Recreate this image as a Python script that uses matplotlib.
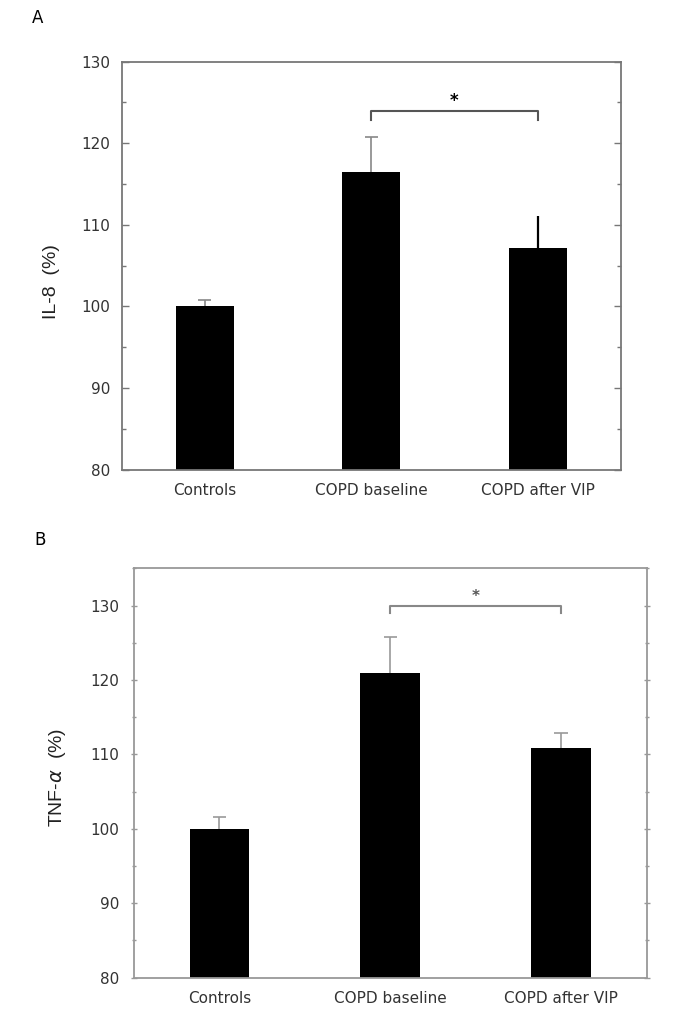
import matplotlib
matplotlib.use("Agg")
import matplotlib.pyplot as plt
from matplotlib.ticker import MultipleLocator

categories = ["Controls", "COPD baseline", "COPD after VIP"]
il8_values = [100.0, 116.4, 107.1]
il8_err = [0.8, 4.3, 4.0]
tnf_values = [100.0, 120.9, 110.9]
tnf_err = [1.6, 4.8, 1.9]
y_ticks = [80, 90, 100, 110, 120, 130]

W, H = 674, 1022
fig = plt.figure(figsize=(W / 100, H / 100), dpi=100)

def ax_from_px(left, right, top, bottom):
    return fig.add_axes([left / W, 1 - bottom / H, (right - left) / W, (bottom - top) / H])

axA = ax_from_px(121.5, 621, 61.5, 469.5)
axB = ax_from_px(134, 646.7, 568.3, 977.5)

x = list(range(len(categories)))

def style(ax, spine_col, tickdir):
    for s in ax.spines.values():
        s.set_color(spine_col)
        s.set_linewidth(1.3)
    ax.set_xlim(-0.5, 2.5)
    ax.set_xticks(x)
    ax.set_xticklabels(categories, fontsize=11, color="#333333", family="DejaVu Sans")
    ax.tick_params(axis="x", length=0, pad=10)
    ax.set_yticks(y_ticks)
    ax.yaxis.set_minor_locator(MultipleLocator(5))
    ax.tick_params(axis="y", which="major", direction=tickdir, length=5, width=1,
                   color=spine_col, left=True, right=True, labelsize=11,
                   labelcolor="#333333", pad=8)
    ax.tick_params(axis="y", which="minor", direction=tickdir, length=3, width=1,
                   color=spine_col, left=True, right=True)
    for lab in ax.get_yticklabels():
        lab.set_family("DejaVu Sans")

def up_err(ax, xs, vals, errs, color, lw, cap):
    for xi, v, e in zip(xs, vals, errs):
        ax.vlines(xi, v, v + e, color=color, lw=lw, zorder=1)
        if cap > 0:
            ax.hlines(v + e, xi - cap, xi + cap, color=color, lw=lw, zorder=1)

# Panel A
axA.bar(x, il8_values, width=0.35, color="black", zorder=2)
axA.set_ylim(80, 130)
up_err(axA, x[:2], il8_values[:2], il8_err[:2], "#888888", 1.2, 0.04)
up_err(axA, x[2:], il8_values[2:], il8_err[2:], "black", 1.6, 0)
style(axA, "#777777", "in")
axA.set_ylabel("IL-8  (%)", fontsize=14, family="Liberation Sans", color="#222222")
axA.yaxis.set_label_coords(-0.123, 0.46)
axA.plot([1, 1, 2, 2], [122.8, 123.9, 123.9, 122.8], color="#555555", lw=1.5)
axA.text(1.5, 124.1, "*", ha="center", va="bottom", fontsize=12, fontweight="bold")

# Panel B
axB.bar(x, tnf_values, width=0.35, color="black", zorder=2)
axB.set_ylim(80, 135)
up_err(axB, x, tnf_values, tnf_err, "#999999", 1.2, 0.04)
style(axB, "#999999", "inout")
axB.set_ylabel(r"TNF-$\alpha$  (%)", fontsize=14, family="Liberation Sans", color="#222222")
axB.yaxis.set_label_coords(-0.129, 0.49)
axB.plot([1, 1, 2, 2], [129.0, 129.9, 129.9, 129.0], color="#888888", lw=1.5)
axB.text(1.5, 130.2, "*", ha="center", va="bottom", fontsize=11, fontweight="bold", color="#555555")

fig.text(38 / W, 1 - 18 / H, "A", fontsize=12, ha="center", va="center", family="DejaVu Sans")
fig.text(40 / W, 1 - 540 / H, "B", fontsize=12, ha="center", va="center", family="DejaVu Sans")

fig.savefig("out.png", dpi=100)
